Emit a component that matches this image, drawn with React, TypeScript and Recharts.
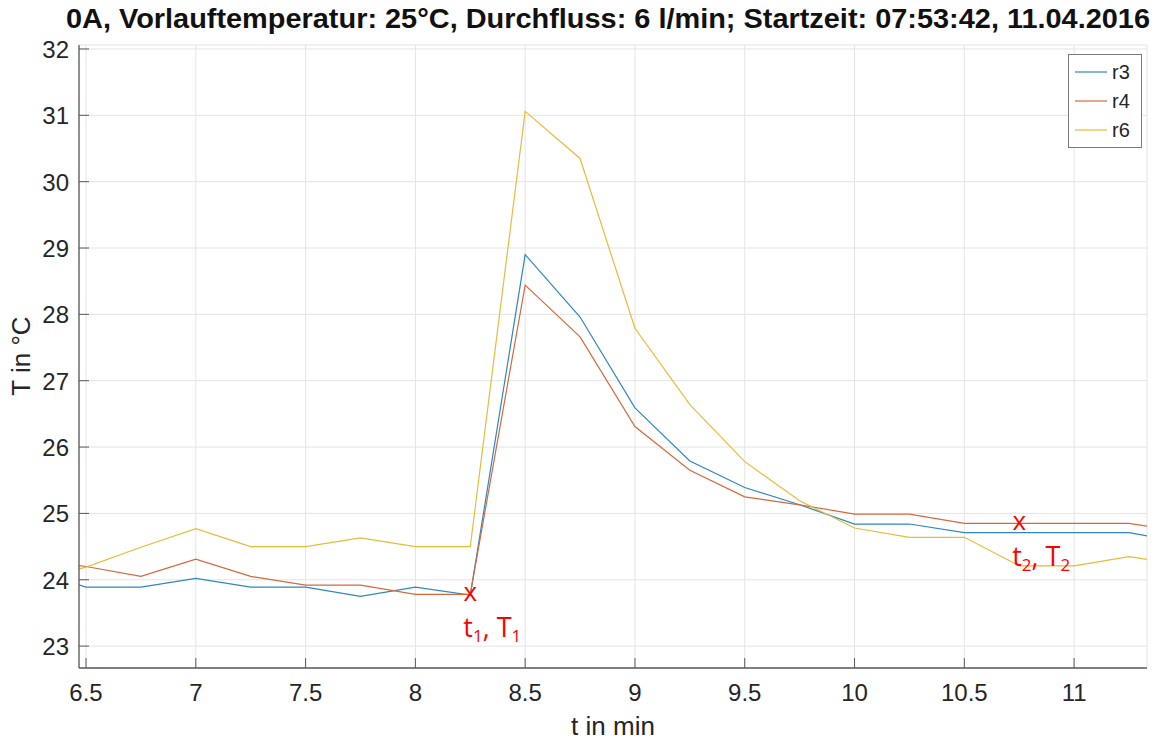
import React from 'react';
import { ComposedChart, Line, Scatter, XAxis, YAxis, CartesianGrid, Legend, Label } from 'recharts';

// sample times in minutes (one reading every 15 s)
const times = [6.25, 6.5, 6.75, 7, 7.25, 7.5, 7.75, 8, 8.25, 8.5, 8.75, 9, 9.25, 9.5, 9.75, 10, 10.25, 10.5, 10.75, 11, 11.25, 11.5];
const r3 = [24.15, 23.89, 23.89, 24.02, 23.89, 23.89, 23.75, 23.89, 23.77, 28.9, 27.96, 26.59, 25.79, 25.39, 25.13, 24.84, 24.84, 24.71, 24.71, 24.71, 24.71, 24.56];
const r4 = [24.3, 24.2, 24.05, 24.31, 24.05, 23.92, 23.92, 23.78, 23.78, 28.44, 27.66, 26.31, 25.65, 25.25, 25.13, 24.99, 24.99, 24.85, 24.85, 24.85, 24.85, 24.72];
const r6 = [24.0, 24.19, 24.49, 24.77, 24.5, 24.5, 24.63, 24.5, 24.5, 31.06, 30.35, 27.79, 26.64, 25.78, 25.19, 24.78, 24.64, 24.64, 24.21, 24.21, 24.35, 24.22];

// start / end points of the evaluation window
const markTimes = [8.25, 10.75];
const markTemps = [23.78, 24.85];
const markIdx = ['1', '2'];

const xTicks = [6.5, 7, 7.5, 8, 8.5, 9, 9.5, 10, 10.5, 11];
const yTicks = [23, 24, 25, 26, 27, 28, 29, 30, 31, 32];

const data = times.map((t, i) => ({ t, r3: r3[i], r4: r4[i], r6: r6[i] }));
const marks = markTimes.map((t, i) => ({ t, T: markTemps[i], idx: markIdx[i] }));

const W = 1161;
const H = 743;
const PLOT = { left: 79, right: 1147, top: 45, bottom: 668 };
const FONT = '"Liberation Sans", Arial, Helvetica, sans-serif';
const AXIS = '#5a5a5a';
const TEXT = '#262626';
const TICK_LEN = 10;
const COLORS = { r3: '#2f87c2', r4: '#d26a3e', r6: '#e8bb3c' };

const BottomTick = (props: any) => {
  const { x, payload } = props;
  return (
    <g>
      <line x1={x} x2={x} y1={PLOT.bottom} y2={PLOT.bottom - TICK_LEN} stroke={AXIS} />
      <text x={x} y={701} textAnchor="middle" fontSize={24} fill={TEXT} fontFamily={FONT}>
        {payload.value}
      </text>
    </g>
  );
};

const TopTick = (props: any) => {
  const { x } = props;
  return <line x1={x} x2={x} y1={PLOT.top} y2={PLOT.top + TICK_LEN} stroke={AXIS} />;
};

const LeftTick = (props: any) => {
  const { y, payload } = props;
  return (
    <g>
      <line x1={PLOT.left} x2={PLOT.left + TICK_LEN} y1={y} y2={y} stroke={AXIS} />
      <text x={69} y={y + 9} textAnchor="end" fontSize={24} fill={TEXT} fontFamily={FONT}>
        {payload.value}
      </text>
    </g>
  );
};

const RightTick = (props: any) => {
  const { y } = props;
  return <line x1={PLOT.right} x2={PLOT.right - TICK_LEN} y1={y} y2={y} stroke={AXIS} />;
};

// red "x" with its t/T caption underneath
const CrossMark = (props: any) => {
  const { cx, cy, payload } = props;
  return (
    <g fill="#ff0000" fontFamily='"Open Sans", "Noto Sans", sans-serif'>
      <text x={cx} y={cy + 7} textAnchor="middle" fontSize={26}>x</text>
      <text x={cx - 7} y={cy + 43} fontSize={27}>
        t<tspan fontSize={17} dy={5}>{payload.idx}</tspan>
        <tspan dy={-5}>, T</tspan>
        <tspan fontSize={17} dy={5}>{payload.idx}</tspan>
      </text>
    </g>
  );
};

const LegendBox = (props: any) => {
  const items = (props.payload || []).filter((p: any) => p.type !== 'none');
  return (
    <svg width={75} height={95} style={{ display: 'block' }}>
      <rect x={0.5} y={0.5} width={73} height={93} fill="#fff" stroke="#7a7a7a" />
      {items.map((p: any, i: number) => {
        const cy = 18 + i * 29;
        return (
          <g key={p.value}>
            <line x1={7} x2={39} y1={cy} y2={cy} stroke={p.color} strokeWidth={1.2} />
            <text x={44} y={cy + 7} fontSize={20} fill={TEXT} fontFamily={FONT}>{p.value}</text>
          </g>
        );
      })}
    </svg>
  );
};

export default function App() {
  return (
    <div style={{ position: 'absolute', left: 0, top: 0, width: W, height: H, background: '#fff' }}>
      <svg width={W} height={40} style={{ position: 'absolute', left: 0, top: 0 }}>
        <text
          x={608}
          y={28}
          textAnchor="middle"
          fontSize={28}
          fontWeight="bold"
          fill="#111"
          fontFamily={FONT}
          textLength={1084}
          lengthAdjust="spacingAndGlyphs"
        >
          0A, Vorlauftemperatur: 25°C, Durchfluss: 6 l/min; Startzeit: 07:53:42, 11.04.2016
        </text>
      </svg>
      <ComposedChart
        width={W}
        height={H}
        data={data}
        margin={{ top: PLOT.top, right: W - PLOT.right, bottom: 0, left: 0 }}
      >
        <CartesianGrid stroke="#e4e4e4" strokeWidth={1} />
        <XAxis
          dataKey="t"
          type="number"
          domain={[6.468, 11.332]}
          allowDataOverflow
          ticks={xTicks}
          interval={0}
          height={H - PLOT.bottom}
          tickSize={0}
          tickLine={false}
          tick={<BottomTick />}
          axisLine={{ stroke: AXIS, strokeWidth: 1.3 }}
        >
          <Label
            content={() => (
              <text x={613} y={735} textAnchor="middle" fontSize={26} fill={TEXT} fontFamily={FONT}>
                t in min
              </text>
            )}
          />
        </XAxis>
        <XAxis
          xAxisId="top"
          orientation="top"
          dataKey="t"
          type="number"
          domain={[6.468, 11.332]}
          allowDataOverflow
          ticks={xTicks}
          interval={0}
          height={0}
          tickSize={0}
          tickLine={false}
          tick={<TopTick />}
          axisLine={{ stroke: AXIS, strokeWidth: 1.3 }}
        />
        <YAxis
          type="number"
          domain={[22.67, 32.06]}
          allowDataOverflow
          ticks={yTicks}
          interval={0}
          width={PLOT.left}
          tickSize={0}
          tickLine={false}
          tick={<LeftTick />}
          axisLine={{ stroke: AXIS, strokeWidth: 1.3 }}
        >
          <Label
            content={() => (
              <text
                x={30}
                y={356}
                transform="rotate(-90, 30, 356)"
                textAnchor="middle"
                fontSize={26}
                fill={TEXT}
                fontFamily={FONT}
              >
                T in °C
              </text>
            )}
          />
        </YAxis>
        <YAxis
          yAxisId="right"
          orientation="right"
          type="number"
          domain={[22.67, 32.06]}
          allowDataOverflow
          ticks={yTicks}
          interval={0}
          width={0}
          tickSize={0}
          tickLine={false}
          tick={<RightTick />}
          axisLine={{ stroke: AXIS, strokeWidth: 1.3 }}
        />
        <Line type="linear" dataKey="r3" name="r3" stroke={COLORS.r3} strokeWidth={1.2} dot={false} activeDot={false} isAnimationActive={false} />
        <Line type="linear" dataKey="r4" name="r4" stroke={COLORS.r4} strokeWidth={1.2} dot={false} activeDot={false} isAnimationActive={false} />
        <Line type="linear" dataKey="r6" name="r6" stroke={COLORS.r6} strokeWidth={1.2} dot={false} activeDot={false} isAnimationActive={false} />
        <Scatter data={marks} dataKey="T" legendType="none" shape={<CrossMark />} isAnimationActive={false} />
        <Legend
          layout="vertical"
          align="center"
          verticalAlign="middle"
          content={<LegendBox />}
          wrapperStyle={{ position: 'absolute', left: 1068, top: 54, width: 75, height: 95 }}
        />
      </ComposedChart>
    </div>
  );
}
